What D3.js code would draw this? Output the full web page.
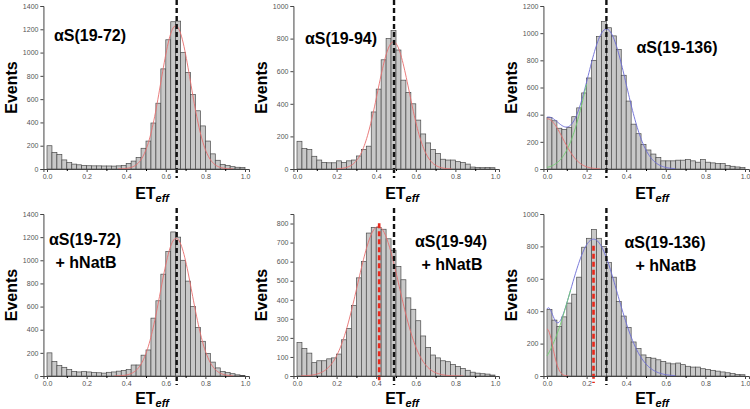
<!DOCTYPE html>
<html><head><meta charset="utf-8">
<script src="https://cdn.jsdelivr.net/npm/d3@7"></script>
<style>
html,body{margin:0;padding:0;background:#fff;}
svg{display:block;font-family:"Liberation Sans",Arial,sans-serif;}
</style></head>
<body>
<script>
// ---------- DATA ----------
const binWidth = 0.025;
const xTicks = [0, 0.2, 0.4, 0.6, 0.8, 1.0];
const xTickLabels = ["0.0", "0.2", "0.4", "0.6", "0.8", "1.0"];

const counts1972 = [200,143,125,78,55,42,36,30,28,27,27,26,26,25,27,30,48,68,100,178,240,395,565,860,1110,1265,1270,1000,830,640,500,370,240,130,75,40,30,20,15,12];
const counts1994 = [170,125,120,78,55,40,38,38,50,40,50,55,80,120,140,350,490,670,800,850,730,545,470,400,300,215,160,120,95,60,55,55,45,40,30,12,10,8,10,8];
const counts19136 = [380,355,300,290,305,385,450,560,670,800,975,1085,1040,980,880,690,500,330,260,180,140,110,85,60,60,60,65,65,70,60,50,70,50,45,40,40,25,20,15,10];
const counts1972NatB = [200,125,90,75,55,40,35,38,35,30,28,25,32,35,42,48,55,95,95,180,225,500,650,880,1075,1245,1200,1000,820,600,420,300,195,120,70,40,30,20,10,5];
const counts1994NatB = [175,145,120,70,80,80,90,95,115,190,250,370,515,600,750,780,780,770,720,660,575,505,410,350,290,210,150,110,95,80,75,60,50,40,30,20,15,12,10,5];
const counts19136NatB = [410,345,305,365,450,505,610,795,850,905,850,800,700,610,460,370,300,210,170,130,115,110,100,90,80,75,80,70,60,55,55,45,40,35,30,25,20,15,10,8];

const yMaxes = [1400, 1000, 1200, 1400, 850, 1000];
const yTickSteps = [200, 200, 200, 200, 100, 200];
const titleLine1 = ["αS(19-72)", "αS(19-94)", "αS(19-136)", "αS(19-72)", "αS(19-94)", "αS(19-136)"];
const titleLine2 = ["", "", "", "+ hNatB", "+ hNatB", "+ hNatB"];
const blackDashed = [0.655, 0.49, 0.3, 0.655, 0.49, 0.3];
const redDashed = [null, null, null, null, 0.415, 0.235];

// Gaussian fit components: [amplitude, centre, width, from, to]
const fitRed = [[1230,0.65,0.075,0.36,0.94],[780,0.487,0.08,0.2,0.78],[370,0,0.08,0,0.27],[1190,0.652,0.08,0.34,0.94],[785,0.41,0.105,0.02,0.84],[290,0,0.03,0,0.11]];
const fitGreen = [null,null,[1030,0.3,0.1,0,0.2],null,null,[845,0.235,0.12,0,0.12]];
const fitBlueRange = [null,null,[0,0.65],null,null,[0,0.65]];

const allCounts = [counts1972, counts1994, counts19136, counts1972NatB, counts1994NatB, counts19136NatB];

// ---------- LAYOUT ----------
const W = 750, H = 409;
const svg = d3.select("body").append("svg").attr("width", W).attr("height", H);

const colX = [0, 250, 500];
const rows = [{top: 6, bottom: 169, title: 199}, {top: 214, bottom: 376, title: 404}];
const titlePos = [[90,41],[341,44],[677,53],[85,245],[451,247],[665,248]];

function gauss(p, x){ return p[0]*Math.exp(-((x-p[1])**2)/(2*p[2]*p[2])); }

allCounts.forEach((counts, k) => {
  const col = k % 3, row = Math.floor(k/3);
  const ox = colX[col];
  const R = rows[row];
  const x = d3.scaleLinear().domain([-0.018, 1.02]).range([ox+47-0.018*198, ox+47+1.02*198]);
  const y = d3.scaleLinear().domain([0, yMaxes[k]]).range([R.bottom, R.top]);
  const g = svg.append("g");

  // bars
  g.selectAll("rect").data(counts).join("rect")
    .attr("x", (d,i) => x(i*binWidth))
    .attr("width", x(binWidth) - x(0))
    .attr("y", d => y(d))
    .attr("height", d => y(0) - y(d))
    .attr("fill", "#c8c8c8").attr("stroke", "#4a4a4a").attr("stroke-width", 0.7);

  // fits
  const line = d3.line().x(d => x(d[0])).y(d => y(d[1])).curve(d3.curveLinear);
  function drawFit(fn, from, to, color){
    const pts = d3.range(from, to + 1e-9, 0.004).map(t => [t, fn(t)]);
    g.append("path").attr("d", line(pts)).attr("fill","none").attr("stroke", color).attr("stroke-width", 1).attr("opacity", 0.9);
  }
  const pr = fitRed[k], pg = fitGreen[k];
  if (fitBlueRange[k]) drawFit(t => gauss(pr,t) + gauss(pg,t), fitBlueRange[k][0], fitBlueRange[k][1], "#6b6bd6");
  if (pg) drawFit(t => gauss(pg,t), pg[3], pg[4], "#6fcf6f");
  drawFit(t => gauss(pr,t), pr[3], pr[4], "#e86f6f");

  // dashed lines
  if (redDashed[k] !== null) {
    g.append("line").attr("x1", x(redDashed[k])).attr("x2", x(redDashed[k]))
      .attr("y1", y(780) - 4).attr("y2", R.bottom + 7)
      .attr("stroke", "#e8291c").attr("stroke-width", 2.6).attr("stroke-dasharray", "5,3");
  }
  g.append("line").attr("x1", x(blackDashed[k])).attr("x2", x(blackDashed[k]))
    .attr("y1", R.top - 6).attr("y2", R.bottom + 9)
    .attr("stroke", "#111").attr("stroke-width", 2.4).attr("stroke-dasharray", "5,3");

  // axes
  const yAxis = d3.axisLeft(y).tickValues(d3.range(0, yMaxes[k] + 1, yTickSteps[k])).tickFormat(d3.format("d")).tickSize(3).tickPadding(2);
  const ya = g.append("g").attr("transform", `translate(${x(-0.018)},0)`).call(yAxis);
  const xAxis = d3.axisBottom(x).tickValues(xTicks).tickFormat((d,i) => xTickLabels[i]).tickSize(3).tickPadding(2);
  const xa = g.append("g").attr("transform", `translate(0,${R.bottom})`).call(xAxis);
  const xm = d3.axisBottom(x).tickValues([0.1,0.3,0.5,0.7,0.9]).tickFormat("").tickSize(2);
  g.append("g").attr("transform", `translate(0,${R.bottom})`).call(xm).select(".domain").remove();
  [ya, xa].forEach(a => {
    a.selectAll("text").attr("font-size", 7).attr("fill", "#555").attr("font-family", "Liberation Sans, Arial, sans-serif");
    a.selectAll("line").attr("stroke", "#444");
    a.select(".domain").attr("stroke", "#444");
  });

  // axis titles
  const midY = (R.top + R.bottom)/2;
  g.append("text").attr("transform", `translate(${ox+17},${midY}) rotate(-90)`)
    .attr("text-anchor","middle").attr("font-size", 16).attr("font-weight","bold").text("Events");
  const xt = g.append("text").attr("x", ox + 152).attr("y", R.title)
    .attr("text-anchor","middle").attr("font-size", 16).attr("font-weight","bold");
  xt.append("tspan").text("ET");
  xt.append("tspan").attr("font-size", 11).attr("font-style","italic").attr("dy", 3).text("eff");

  // panel title
  const tp = titlePos[k];
  g.append("text").attr("x", tp[0]).attr("y", tp[1]).attr("text-anchor","middle")
    .attr("font-size", 16).attr("font-weight","bold").text(titleLine1[k]);
  if (titleLine2[k]) g.append("text").attr("x", tp[0]+1).attr("y", tp[1]+23).attr("text-anchor","middle")
    .attr("font-size", 16).attr("font-weight","bold").text(titleLine2[k]);
});
</script>
</body></html>
